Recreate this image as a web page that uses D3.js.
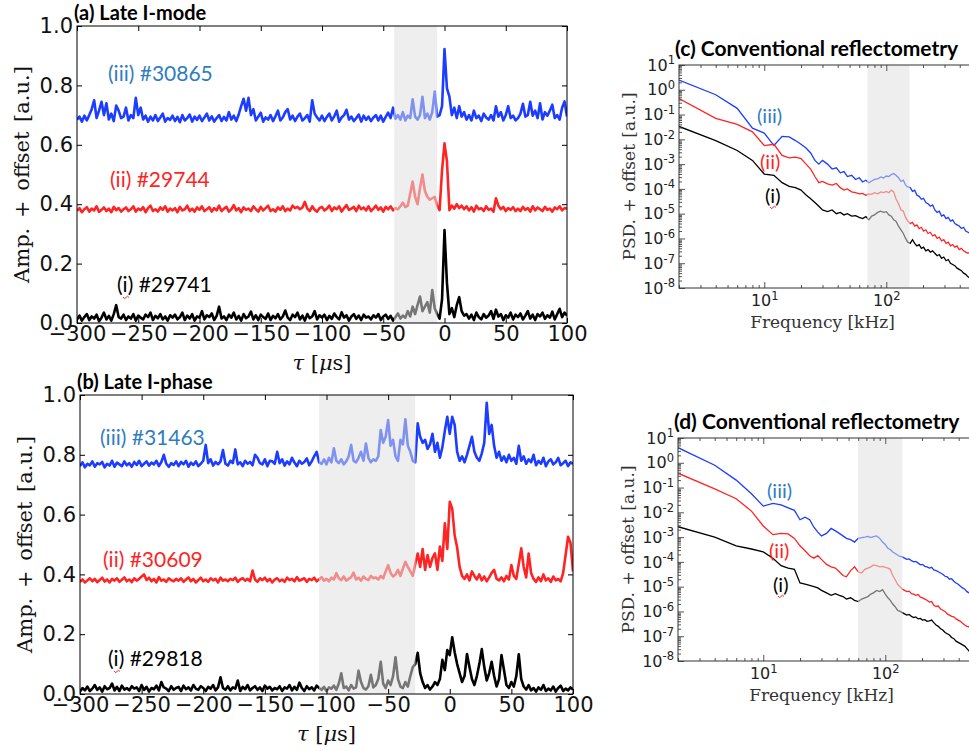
<html>
<head>
<meta charset="utf-8">
<script src="https://d3js.org/d3.v7.min.js"></script>
<style>
  body { margin: 0; background: #fff; }
</style>
</head>
<body>
<script>
// ---- data: panels (a) and (b), amplitude in 1e-3 a.u., one value every 2 us from -300 to 100 ----
var tauStart = -300, tauStep = 2;

var aBlack = [12,25,8,20,30,10,22,15,28,6,18,35,12,24,8,30,60,20,15,28,
  10,22,15,30,8,25,18,12,28,20,35,10,24,16,30,12,22,8,26,18,
  28,12,20,35,10,25,15,30,8,22,18,40,12,26,20,32,10,24,55,15,
  22,10,28,18,35,12,24,8,30,16,22,38,12,26,10,28,20,14,32,10,
  24,16,30,12,22,42,18,10,28,20,35,12,25,8,30,16,22,40,12,26,
  18,28,10,24,14,32,20,12,36,18,26,8,22,30,14,25,10,28,18,22,
  12,26,18,30,10,22,28,14,24,8,20,32,15,25,18,40,22,55,30,60,
  89,40,55,70,35,111,50,30,15,80,313,135,30,50,20,60,87,40,25,30,
  15,28,10,35,20,12,30,18,25,40,14,45,22,30,10,26,18,35,12,28,
  20,32,12,25,40,15,28,10,30,22,35,14,26,18,38,12,30,48,20,35,
  25];
var aRed = [12,22,8,18,25,10,20,14,28,9,16,24,12,20,8,26,15,22,10,18,
  24,12,18,28,10,20,15,25,8,22,30,12,18,10,24,16,28,10,20,14,
  22,8,26,14,18,30,12,20,10,24,16,28,12,18,25,10,22,14,30,12,
  20,26,10,18,32,14,22,8,24,16,20,12,28,18,10,26,14,22,30,12,
  18,10,24,16,28,12,20,14,30,22,26,18,24,43,20,12,28,16,10,22,
  26,14,20,30,12,24,18,28,10,22,32,16,20,26,12,30,18,24,14,28,
  12,20,30,16,24,10,26,18,28,14,22,18,28,40,25,30,70,111,60,35,
  90,135,80,60,50,55,60,30,15,150,240,180,15,30,20,35,22,30,18,28,
  14,25,10,30,18,22,12,28,16,20,10,55,30,18,26,12,22,16,25,12,
  20,12,26,16,22,10,28,14,24,18,12,26,16,20,10,24,18,28,14,22,
  20];
var aBlue = [15,25,8,28,12,30,50,80,20,45,75,30,70,15,35,10,62,45,20,25,
  55,12,30,20,88,30,55,15,28,8,25,12,30,10,22,35,8,20,14,28,
  10,24,6,30,12,20,32,8,25,14,28,10,22,35,12,26,8,20,30,10,
  24,12,40,15,28,10,32,60,85,45,88,30,50,12,25,38,8,22,15,30,
  10,26,45,12,22,40,50,15,28,10,25,35,12,20,30,8,80,35,22,12,
  28,10,24,35,12,26,45,8,22,30,48,15,25,10,20,32,8,28,14,25,
  10,22,30,12,28,8,24,38,20,55,18,30,15,40,12,28,20,83,25,15,
  30,92,20,35,15,40,109,25,30,60,252,120,92,30,55,20,60,25,40,15,
  30,12,45,20,28,10,35,22,15,30,12,60,25,40,12,30,60,20,28,12,
  20,35,68,25,30,75,28,45,20,70,15,40,28,45,65,20,30,15,55,76,
  25];
var aOffsets = [0, 0.365, 0.67];

var bBlack = [8,20,12,25,10,18,30,14,22,8,26,16,20,35,12,24,10,28,15,20,
  12,26,18,22,10,30,14,24,8,20,16,28,12,40,22,18,10,26,14,20,
  24,10,28,16,22,12,30,18,14,26,20,10,24,18,30,12,22,56,20,14,
  26,12,22,18,45,10,24,16,30,12,20,26,14,22,10,28,18,24,12,20,
  16,26,10,22,18,30,12,24,14,38,20,10,26,16,22,12,28,20,14,24,
  10,22,18,28,14,35,69,20,25,12,30,18,22,78,40,20,15,26,64,22,
  30,50,108,35,20,45,30,60,123,50,25,20,40,25,60,90,100,138,70,40,
  20,30,15,25,40,30,50,114,80,147,130,190,140,100,70,40,60,134,90,50,
  30,60,100,150,90,45,70,108,60,25,50,130,80,30,20,40,25,60,133,50,
  25,15,30,12,20,8,22,14,30,10,18,12,25,8,20,28,10,18,12,22,
  15];
var bRed = [10,18,8,15,22,12,20,9,16,24,11,18,8,20,14,22,10,17,25,12,
  18,9,22,14,20,28,35,16,24,12,20,8,26,14,18,10,22,16,12,20,
  14,22,10,18,25,12,20,8,16,24,12,18,10,22,15,20,8,24,14,18,
  12,20,16,24,10,18,22,14,20,12,48,18,10,22,16,24,12,20,8,18,
  22,12,18,10,24,16,20,12,26,14,18,22,10,20,16,24,12,18,26,14,
  20,12,24,18,39,22,16,28,14,20,26,41,18,24,14,28,20,16,30,22,
  25,18,30,22,45,66,40,28,35,50,30,55,77,60,45,30,70,105,60,120,
  50,100,60,90,105,50,128,80,206,120,278,255,165,125,60,30,20,35,15,45,
  30,18,35,15,28,12,25,40,50,20,15,25,12,30,18,66,30,20,70,122,
  60,25,105,40,20,10,25,12,35,15,22,10,28,15,20,12,40,100,161,140,
  45];
var bBlue = [12,25,8,20,15,28,10,22,18,26,8,20,14,30,10,24,18,12,28,15,
  22,10,26,16,30,12,20,28,14,24,18,30,12,26,50,20,10,22,16,28,
  12,26,18,30,10,24,16,28,12,20,30,83,22,35,14,26,18,28,66,20,
  14,30,22,68,18,25,12,30,20,26,15,50,40,22,18,35,12,30,28,20,
  60,22,35,14,28,18,40,24,12,30,20,26,38,15,28,45,60,25,20,35,
  18,40,25,72,30,22,35,18,28,45,83,30,25,40,60,30,88,40,25,35,
  30,45,133,90,110,166,80,100,45,30,100,85,169,80,60,30,25,155,110,90,
  100,70,85,120,60,90,40,75,130,177,120,177,150,60,30,45,25,50,80,110,
  60,40,30,55,90,224,120,150,80,40,60,30,45,25,50,30,40,20,80,30,
  45,20,35,25,50,15,30,20,40,12,28,35,18,25,40,15,22,30,12,25,
  20];
var bOffsets = [0, 0.365, 0.75];

var tauTicks = [-300, -250, -200, -150, -100, -50, 0, 50, 100];
var ampTicks = [0, 0.2, 0.4, 0.6, 0.8, 1.0];

// ---- data: panels (c) and (d), frequency in kHz, PSD given as log10 ----
var freqs = [2,4,6,8,10,12,14,16,18,20,
  22,24,26,28,30,33,36,39,42,45,
  48,52,56,60,64,68,72,76,80,85,
  90,95,100,105,110,115,120,126,132,138,
  144,150,157,164,171,178,186,194,202,211,
  220,230,240,250,261,272,284,296,309,322,
  336,350,365,380,396,413,430,448,467,487,
  508];

var cBlack = [-1.48,-2.05,-2.45,-2.85,-3.4,-3.45,-3.75,-3.9,-3.95,-4.05,
  -4.25,-4.4,-4.55,-4.7,-4.85,-4.92,-4.85,-5.0,-4.95,-5.05,
  -5.0,-5.1,-5.08,-5.15,-5.2,-5.12,-5.25,-5.1,-5.05,-4.95,
  -4.9,-4.95,-4.92,-5.05,-5.1,-5.25,-5.3,-5.5,-5.65,-5.8,
  -6.0,-6.15,-6.2,-6.05,-6.2,-6.3,-6.25,-6.4,-6.35,-6.5,
  -6.45,-6.55,-6.5,-6.6,-6.7,-6.65,-6.8,-6.75,-6.9,-6.85,
  -7.0,-7.05,-7.1,-7.2,-7.25,-7.3,-7.4,-7.45,-7.55,-7.6,
  -7.7];
var cRed = [-0.35,-1.15,-1.4,-1.7,-2.25,-2.2,-2.65,-2.75,-2.72,-2.78,
  -3.0,-3.2,-3.5,-3.75,-3.7,-3.8,-3.85,-3.78,-3.95,-4.05,
  -4.0,-4.12,-4.15,-4.2,-4.18,-4.26,-4.2,-4.22,-4.15,-4.2,
  -4.12,-4.15,-4.1,-4.15,-4.05,-4.12,-4.4,-4.6,-4.85,-4.9,
  -5.15,-5.3,-5.4,-5.35,-5.5,-5.45,-5.6,-5.55,-5.7,-5.65,
  -5.8,-5.75,-5.9,-5.85,-6.0,-5.95,-6.1,-6.05,-6.2,-6.15,
  -6.3,-6.25,-6.35,-6.3,-6.45,-6.4,-6.5,-6.55,-6.6,-6.55,
  -6.7];
var cBlue = [0.39,-0.2,-0.75,-1.55,-1.75,-2.25,-1.88,-1.9,-2.05,-2.2,
  -2.35,-2.55,-2.85,-3.0,-2.85,-3.0,-3.2,-3.15,-3.35,-3.3,
  -3.5,-3.45,-3.62,-3.55,-3.72,-3.65,-3.75,-3.68,-3.62,-3.6,
  -3.52,-3.56,-3.48,-3.5,-3.42,-3.38,-3.45,-3.55,-3.7,-3.65,
  -3.85,-3.92,-3.95,-4.1,-4.05,-4.25,-4.3,-4.42,-4.38,-4.55,
  -4.6,-4.7,-4.65,-4.85,-4.95,-4.9,-5.1,-5.05,-5.2,-5.15,
  -5.3,-5.25,-5.4,-5.45,-5.5,-5.6,-5.55,-5.7,-5.75,-5.8,
  -5.9];

var dBlack = [-2.58,-3.0,-3.35,-3.48,-3.6,-3.85,-4.15,-4.25,-4.3,-4.85,
  -4.9,-4.95,-5.0,-5.05,-5.15,-5.25,-5.35,-5.28,-5.35,-5.4,
  -5.5,-5.45,-5.55,-5.6,-5.5,-5.45,-5.4,-5.3,-5.25,-5.15,
  -5.2,-5.12,-5.3,-5.45,-5.55,-5.7,-5.8,-5.95,-6.0,-6.05,
  -6.1,-6.15,-6.12,-6.2,-6.25,-6.22,-6.3,-6.28,-6.35,-6.33,
  -6.4,-6.38,-6.35,-6.45,-6.55,-6.6,-6.7,-6.75,-6.85,-6.9,
  -6.95,-7.05,-7.1,-7.2,-7.25,-7.3,-7.35,-7.4,-7.5,-7.6,
  -7.7];
var dRed = [-0.42,-1.05,-1.45,-1.95,-2.55,-2.9,-2.85,-2.87,-3.05,-3.35,
  -3.55,-3.75,-3.85,-3.75,-3.9,-4.1,-4.2,-4.25,-4.4,-4.55,
  -4.6,-4.35,-4.2,-4.4,-4.45,-4.3,-4.25,-4.2,-4.12,-4.15,
  -4.2,-4.18,-4.22,-4.25,-4.3,-4.55,-4.7,-4.9,-5.0,-5.1,
  -5.15,-5.2,-5.18,-5.28,-5.3,-5.35,-5.32,-5.42,-5.45,-5.5,
  -5.55,-5.62,-5.6,-5.75,-5.8,-5.78,-5.9,-5.95,-6.0,-6.1,
  -6.15,-6.2,-6.22,-6.3,-6.35,-6.4,-6.48,-6.55,-6.6,-6.62,
  -6.75];
var dBlue = [0.61,-0.1,-0.7,-1.25,-1.75,-1.64,-1.7,-1.82,-1.92,-2.3,
  -2.2,-2.3,-2.6,-2.8,-2.95,-2.85,-2.65,-2.75,-2.85,-2.95,
  -3.05,-3.1,-3.2,-3.05,-3.02,-3.0,-2.97,-3.02,-2.98,-2.95,
  -3.05,-3.2,-3.3,-3.45,-3.5,-3.6,-3.65,-3.72,-3.78,-3.8,
  -3.85,-3.9,-3.88,-3.95,-4.0,-3.98,-4.05,-4.12,-4.1,-4.18,
  -4.2,-4.25,-4.22,-4.32,-4.35,-4.4,-4.45,-4.5,-4.58,-4.6,
  -4.7,-4.68,-4.78,-4.85,-4.9,-4.98,-5.05,-5.1,-5.2,-5.25,
  -5.35];

var seriesNames = ["(i)", "(ii)", "(iii)"];
var solid = ["#000000", "#ff2424", "#1c3cff"];
var light = ["#767676", "#f08c8c", "#8092f0"];
var labelColor = ["#000000", "#ff2424", "#2f7dc0"];

var tickFont = "DejaVu Sans";
var serif = "DejaVu Serif";
var calib = "Lato";

var svg = d3.select("body").append("svg")
  .attr("width", 969)
  .attr("height", 751);
var defs = svg.append("defs");

function addClips(id, x0, x1, b0, b1, y0, y1) {
  defs.append("clipPath").attr("id", id + "-in").append("rect")
    .attr("x", b0).attr("y", y0).attr("width", b1 - b0).attr("height", y1 - y0);
  var out = defs.append("clipPath").attr("id", id + "-out");
  out.append("rect").attr("x", x0).attr("y", y0).attr("width", b0 - x0).attr("height", y1 - y0);
  out.append("rect").attr("x", b1).attr("y", y0).attr("width", x1 - b1).attr("height", y1 - y0);
}

function squiggle(g, x, y) {
  g.append("path")
    .attr("d", "M" + (x - 3) + "," + y + " q1.5,3 3,0.5 q1.5,-2.5 3,0")
    .attr("fill", "none").attr("stroke", "#ff2424").attr("stroke-width", 1);
}

// ---------------- time panels ----------------
function timePanel(p) {
  var x = d3.scaleLinear().domain([-300, 100]).range([p.left, p.left + p.width]);
  var y = d3.scaleLinear().domain([0, 1]).range([p.top + p.height, p.top]);
  var g = svg.append("g");

  g.append("rect")
    .attr("x", x(p.band[0])).attr("y", p.top)
    .attr("width", x(p.band[1]) - x(p.band[0])).attr("height", p.height)
    .attr("fill", "#eeeeee");

  addClips(p.id, p.left, p.left + p.width, x(p.band[0]), x(p.band[1]), p.top - 5, p.top + p.height + 5);

  var line = d3.line().x(function(d) { return x(d[0]); }).y(function(d) { return y(d[1]); });

  [2, 1, 0].forEach(function(k) {
    var pts = p.series[k].map(function(v, i) { return [tauStart + i * tauStep, p.offsets[k] + v / 1000]; });
    g.append("path").datum(pts).attr("d", line)
      .attr("clip-path", "url(#" + p.id + "-out)")
      .attr("fill", "none").attr("stroke", solid[k]).attr("stroke-width", 2.6).attr("stroke-linejoin", "round");
    g.append("path").datum(pts).attr("d", line)
      .attr("clip-path", "url(#" + p.id + "-in)")
      .attr("fill", "none").attr("stroke", light[k]).attr("stroke-width", 2.6).attr("stroke-linejoin", "round");
  });

  var xb = g.append("g").attr("transform", "translate(0," + (p.top + p.height) + ")")
    .call(d3.axisBottom(x).tickValues(tauTicks).tickSizeInner(-5).tickSizeOuter(0).tickPadding(3));
  var xt = g.append("g").attr("transform", "translate(0," + p.top + ")")
    .call(d3.axisTop(x).tickValues(tauTicks).tickSizeInner(-5).tickSizeOuter(0).tickFormat(""));
  var yl = g.append("g").attr("transform", "translate(" + p.left + ",0)")
    .call(d3.axisLeft(y).tickValues(ampTicks).tickSizeInner(-5).tickSizeOuter(0).tickPadding(4).tickFormat(d3.format(".1f")));
  var yr = g.append("g").attr("transform", "translate(" + (p.left + p.width) + ",0)")
    .call(d3.axisRight(y).tickValues(ampTicks).tickSizeInner(-5).tickSizeOuter(0).tickFormat(""));
  [xb, xt, yl, yr].forEach(function(a) {
    a.select(".domain").remove();
    a.attr("font-family", tickFont).attr("font-size", 21);
    a.selectAll("text").attr("fill", "#111");
  });

  g.append("rect")
    .attr("x", p.left).attr("y", p.top).attr("width", p.width).attr("height", p.height)
    .attr("fill", "none").attr("stroke", "#000").attr("stroke-width", 1);

  g.append("text")
    .attr("transform", "translate(" + p.ylabelX + "," + (p.top + p.height / 2) + ") rotate(-90)")
    .attr("text-anchor", "middle").attr("font-family", serif).attr("font-size", 21)
    .attr("fill", "#111").attr("word-spacing", 3)
    .text("Amp. + offset [a.u.]");

  var xl = g.append("text")
    .attr("x", x(p.xlabelAt)).attr("y", p.top + p.height + 47)
    .attr("text-anchor", "middle").attr("font-family", serif).attr("font-size", 21)
    .attr("fill", "#111");
  xl.append("tspan").attr("font-style", "italic").text("\u03C4");
  xl.append("tspan").text(" [");
  xl.append("tspan").attr("font-style", "italic").text("\u03BC");
  xl.append("tspan").text("s]");

  g.append("text")
    .attr("x", p.left - 3).attr("y", p.top - 6)
    .attr("font-family", calib).attr("font-weight", "bold").attr("font-size", 20)
    .text(p.title);

  p.labels.forEach(function(lb, k) {
    g.append("text")
      .attr("x", lb[0]).attr("y", lb[1])
      .attr("font-family", calib).attr("font-size", 21)
      .attr("fill", labelColor[k])
      .text(seriesNames[k] + " " + p.shots[k]);
  });
  squiggle(g, p.labels[0][0] + 9, p.labels[0][1] + 5);
}

timePanel({
  id: "pa", left: 77, top: 26, width: 490, height: 297,
  band: [-41, -6], series: [aBlack, aRed, aBlue], offsets: aOffsets,
  title: "(a) Late I-mode", ylabelX: 29, xlabelAt: -100,
  shots: ["#29741", "#29744", "#30865"],
  labels: [[117, 292], [110, 187], [108, 81]]
});

timePanel({
  id: "pb", left: 80, top: 395, width: 493, height: 299,
  band: [-106, -28], series: [bBlack, bRed, bBlue], offsets: bOffsets,
  title: "(b) Late I-phase", ylabelX: 32, xlabelAt: -100,
  shots: ["#29818", "#30609", "#31463"],
  labels: [[108, 666], [103, 567], [100, 445]]
});

// ---------------- spectrum panels ----------------
function freqPanel(p) {
  var decade = 122;
  var x = d3.scaleLog().domain([2, 1000]).range([p.left, p.left + decade * Math.log10(500)]);
  var y = d3.scaleLog().domain([1e-8, 10]).range([p.top + p.height, p.top]);
  var right = x(1000);
  var g = svg.append("g");

  g.append("rect")
    .attr("x", x(p.band[0])).attr("y", p.top)
    .attr("width", x(p.band[1]) - x(p.band[0])).attr("height", p.height)
    .attr("fill", "#eeeeee");

  addClips(p.id, p.left, right, x(p.band[0]), x(p.band[1]), p.top, p.top + p.height);

  var line = d3.line().x(function(d) { return x(d[0]); }).y(function(d) { return y(d[1]); });

  [2, 1, 0].forEach(function(k) {
    var pts = freqs.map(function(f, i) { return [f, Math.pow(10, p.series[k][i])]; });
    g.append("path").datum(pts).attr("d", line)
      .attr("clip-path", "url(#" + p.id + "-out)")
      .attr("fill", "none").attr("stroke", solid[k]).attr("stroke-width", 1.3);
    g.append("path").datum(pts).attr("d", line)
      .attr("clip-path", "url(#" + p.id + "-in)")
      .attr("fill", "none").attr("stroke", light[k]).attr("stroke-width", 1.3);
  });

  var yMajor = [1e-8, 1e-7, 1e-6, 1e-5, 1e-4, 1e-3, 1e-2, 1e-1, 1, 10];
  var yMinor = [];
  yMajor.slice(0, 9).forEach(function(d) { for (var m = 2; m < 10; m++) yMinor.push(m * d); });
  var xMajor = [10, 100];
  var xMinor = [2, 3, 4, 5, 6, 7, 8, 9, 20, 30, 40, 50, 60, 70, 80, 90, 200, 300, 400, 500, 600, 700, 800, 900];

  var axes = [];
  axes.push(g.append("g").attr("transform", "translate(0," + (p.top + p.height) + ")")
    .call(d3.axisBottom(x).tickValues(xMajor).tickSizeInner(-6).tickSizeOuter(0).tickPadding(7)));
  axes.push(g.append("g").attr("transform", "translate(0," + (p.top + p.height) + ")")
    .call(d3.axisBottom(x).tickValues(xMinor).tickSizeInner(-3).tickSizeOuter(0).tickFormat("")));
  axes.push(g.append("g").attr("transform", "translate(0," + p.top + ")")
    .call(d3.axisTop(x).tickValues(xMajor).tickSizeInner(-6).tickSizeOuter(0).tickFormat("")));
  axes.push(g.append("g").attr("transform", "translate(0," + p.top + ")")
    .call(d3.axisTop(x).tickValues(xMinor).tickSizeInner(-3).tickSizeOuter(0).tickFormat("")));
  axes.push(g.append("g").attr("transform", "translate(" + p.left + ",0)")
    .call(d3.axisLeft(y).tickValues(yMajor).tickSizeInner(-6).tickSizeOuter(0).tickPadding(10)));
  axes.push(g.append("g").attr("transform", "translate(" + p.left + ",0)")
    .call(d3.axisLeft(y).tickValues(yMinor).tickSizeInner(-3).tickSizeOuter(0).tickFormat("")));
  axes.forEach(function(a) {
    a.select(".domain").remove();
    a.attr("font-family", tickFont).attr("font-size", 16);
    a.selectAll("line").attr("stroke", "#555");
  });

  axes[0].selectAll(".tick text").attr("fill", "#222").each(function(d) {
    var t = d3.select(this).text("10");
    t.append("tspan").attr("dy", "-0.55em").attr("font-size", "0.72em").text(Math.round(Math.log10(d)));
  });
  axes[4].selectAll(".tick text").attr("fill", "#222").attr("x", -4).each(function(d) {
    var t = d3.select(this).text("10");
    t.append("tspan").attr("dy", "-0.55em").attr("font-size", "0.72em").text(Math.round(Math.log10(d)));
  });

  g.append("rect")
    .attr("x", p.left).attr("y", p.top).attr("width", right - p.left).attr("height", p.height)
    .attr("fill", "none").attr("stroke", "#333").attr("stroke-width", 1);

  g.append("text")
    .attr("transform", "translate(" + (p.left - 44) + "," + (p.top + p.height / 2) + ") rotate(-90)")
    .attr("text-anchor", "middle").attr("font-family", serif).attr("font-size", 17)
    .attr("fill", "#333").attr("word-spacing", 1)
    .text("PSD. + offset [a.u.]");

  g.append("text")
    .attr("x", x(30)).attr("y", p.top + p.height + 40)
    .attr("text-anchor", "middle").attr("font-family", serif).attr("font-size", 17)
    .attr("fill", "#333")
    .text("Frequency [kHz]");

  g.append("text")
    .attr("x", p.left - 4).attr("y", p.top - 9)
    .attr("font-family", calib).attr("font-weight", "bold").attr("font-size", 21)
    .text(p.title);

  p.labels.forEach(function(lb, k) {
    g.append("text")
      .attr("x", lb[0]).attr("y", lb[1])
      .attr("font-family", calib).attr("font-size", 20)
      .attr("fill", labelColor[k])
      .text(seriesNames[k]);
  });
  squiggle(g, p.labels[0][0] + 8, p.labels[0][1] + 4);
}

freqPanel({
  id: "pc", left: 679, top: 65, height: 223,
  band: [70, 155], series: [cBlack, cRed, cBlue],
  title: "(c) Conventional reflectometry",
  labels: [[765, 203], [760, 169], [757, 123]]
});

freqPanel({
  id: "pd", left: 678, top: 438, height: 223,
  band: [60, 138], series: [dBlack, dRed, dBlue],
  title: "(d) Conventional reflectometry",
  labels: [[773, 592], [769, 558], [767, 498]]
});
</script>
</body>
</html>
